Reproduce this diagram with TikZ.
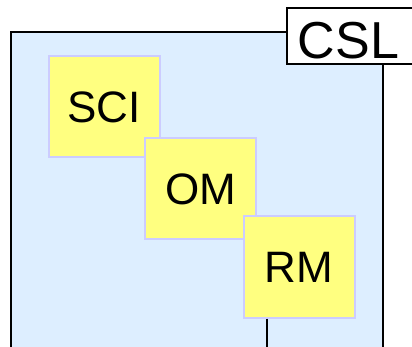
\documentclass[tikz,border=0pt]{standalone}
\usepackage{fontspec}
\setmainfont{Liberation Sans}
\definecolor{panelblue}{RGB}{221,238,255}
\definecolor{boxyellow}{RGB}{255,255,128}
\definecolor{boxedge}{RGB}{204,204,255}
\begin{document}
\begin{tikzpicture}[x=1pt,y=-1pt,
  panel/.style={draw=black,line width=2pt,fill=panelblue},
  tag/.style={draw=black,line width=2pt,fill=white},
  module/.style={draw=boxedge,line width=2pt,fill=boxyellow,
    minimum width=111pt,minimum height=101pt,inner sep=0pt,
    font=\fontsize{44}{44}\selectfont,text height=32pt,text depth=0pt},
  link/.style={draw=black,line width=2pt}]
\useasboundingbox (0,0) rectangle (412,347);
\clip (0,0) rectangle (412,347);
% enclosing subsystem panel and its title tab
\path[panel] (11,32) rectangle (383,360);
\path[tag] (287,8) rectangle (430,64);
\node[anchor=base,inner sep=0pt,font=\fontsize{52}{52}\selectfont] (csl) at (348.5,58.3) {CSL};
% staggered modules
\node[module,text depth=-3pt] (sci) at (104,106.5) {SCI};
\node[module,text depth=-1pt] (om) at (200.5,188.5) {OM};
\node[module,text depth=-1pt] (rm) at (299,267) {RM};
% link leaving the bottom module
\coordinate (out) at (267,350);
\draw[link] (rm.south -| out) -- (out);
\end{tikzpicture}
\end{document}
